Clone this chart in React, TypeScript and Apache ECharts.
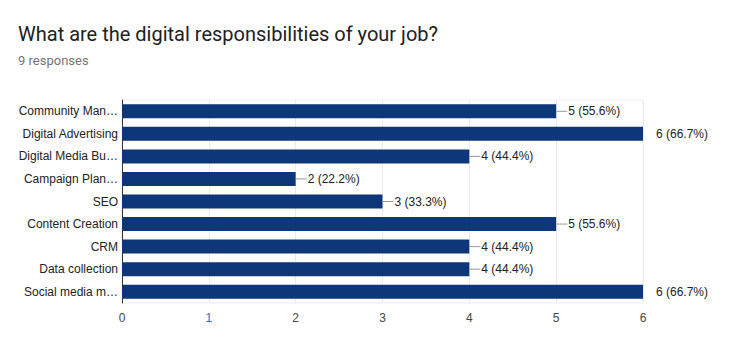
import React, { useEffect, useRef } from "react";
import * as echarts from "echarts";

const categories = [
  "Community Man…",
  "Digital Advertising",
  "Digital Media Bu…",
  "Campaign Plan…",
  "SEO",
  "Content Creation",
  "CRM",
  "Data collection",
  "Social media m…",
];
const counts = [5, 6, 4, 2, 3, 5, 4, 4, 6];
const percents = ["55.6%", "66.7%", "44.4%", "22.2%", "33.3%", "55.6%", "44.4%", "44.4%", "66.7%"];
const axisMax = 6;
const titleText = "What are the digital responsibilities of your job?";
const subText = "9 responses";

export default function App() {
  const ref = useRef<HTMLDivElement>(null);
  useEffect(() => {
    if (!ref.current) return;
    const chart = echarts.init(ref.current, undefined, { renderer: "svg" });
    chart.setOption({
      animation: false,
      backgroundColor: "#fff",
      title: {
        text: titleText,
        subtext: subText,
        left: 5,
        top: 11,
        itemGap: 10,
        textStyle: { fontFamily: "Roboto", fontSize: 20, fontWeight: "normal", color: "#212121" },
        subtextStyle: { fontFamily: "Roboto", fontSize: 13, color: "#757575" },
      },
      grid: {
        left: 114,
        right: 97,
        top: 92,
        bottom: 57,
        containLabel: false,
        show: true,
        borderColor: "#eeeeee",
        borderWidth: 1,
      },
      xAxis: {
        type: "value",
        min: 0,
        max: axisMax,
        interval: 1,
        axisLine: { show: false },
        axisTick: { show: false },
        splitLine: { show: true, lineStyle: { color: "#ebebeb" } },
        axisLabel: {
          fontFamily: "Arial, Liberation Sans",
          fontSize: 12,
          color: "#444",
          margin: 9,
          formatter: (v: number) => (v === 1 ? "{b|1}" : String(v)),
          rich: { b: { color: "#3366cc", fontFamily: "Arial, Liberation Sans", fontSize: 12 } },
        },
      },
      yAxis: {
        type: "category",
        data: categories,
        inverse: true,
        axisLine: { show: true, lineStyle: { color: "#333", width: 1 } },
        axisTick: { show: false },
        axisLabel: {
          fontFamily: "Arial, Liberation Sans",
          fontSize: 12,
          color: "#222",
          margin: 4,
        },
      },
      series: [
        {
          type: "bar",
          data: counts,
          barCategoryGap: "38%",
          itemStyle: { color: "#0e3779" },
          label: {
            show: true,
            position: "right",
            distance: 0,
            formatter: (p: any) => {
              const i = p.dataIndex;
              const t = `${counts[i]} (${percents[i]})`;
              return counts[i] >= axisMax ? `{s|}{t|${t}}` : `{l|}{g|}{t|${t}}`;
            },
            rich: {
              l: { width: 11, height: 1, backgroundColor: "#999" },
              g: { width: 1 },
              s: { width: 13 },
              t: { fontFamily: "Arial, Liberation Sans", fontSize: 12, color: "#222" },
            },
          },
        },
      ],
    });
    return () => chart.dispose();
  }, []);
  return <div ref={ref} style={{ width: 732, height: 352 }} />;
}
